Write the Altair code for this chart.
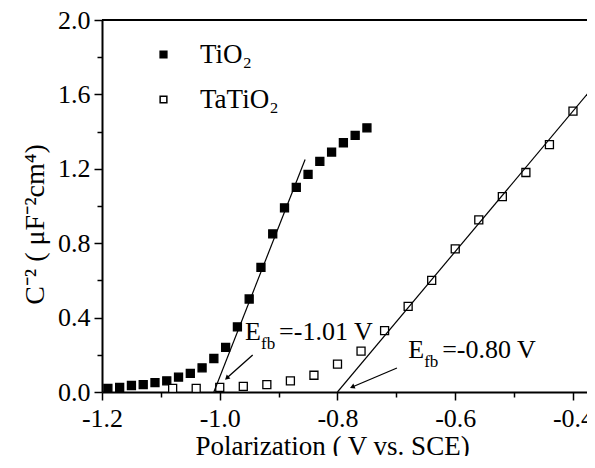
import altair as alt
import pandas as pd

# ---------------- data ----------------
series_names = ["TiO\u2082", "TaTiO\u2082"]

tio2_x = [-1.19, -1.17, -1.15, -1.13, -1.11, -1.09, -1.07, -1.05, -1.03, -1.01, -0.99, -0.97,
          -0.95, -0.93, -0.91, -0.89, -0.87, -0.85, -0.83, -0.81, -0.79, -0.77, -0.75]
tio2_y = [0.02, 0.025, 0.035, 0.04, 0.05, 0.06, 0.08, 0.10, 0.13, 0.18, 0.24, 0.35,
          0.50, 0.67, 0.85, 0.99, 1.10, 1.17, 1.24, 1.29, 1.34, 1.38, 1.42]

tatio2_x = [-1.08, -1.04, -1.00, -0.96, -0.92, -0.88, -0.84, -0.80, -0.76, -0.72, -0.68,
            -0.64, -0.60, -0.56, -0.52, -0.48, -0.44, -0.40, -0.36]
tatio2_y = [0.02, 0.02, 0.025, 0.03, 0.04, 0.06, 0.09, 0.15, 0.22, 0.33, 0.46,
            0.60, 0.77, 0.925, 1.05, 1.18, 1.33, 1.51, 1.69]

# linear fits (Mott-Schottky extrapolation)
fit_x1 = [-1.01, -0.80]
fit_y1 = [0.0, 0.0]
fit_x2 = [-0.855, -0.363]
fit_y2 = [1.25, 1.65]

# annotations
ann_x = [-0.957, -0.680]
ann_y = [0.28, 0.183]
ann_rest = ["=-1.01 V", "=-0.80 V"]
arrow_from_x = [-0.944, -0.699]
arrow_from_y = [0.199, 0.129]
arrow_to_x = [-0.988, -0.775]
arrow_to_y = [0.075, 0.027]
arrow_angle = [228, 247]

x_tick_values = [-1.2, -1.1, -1.0, -0.9, -0.8, -0.7, -0.6, -0.5, -0.4]
y_tick_values = [0.0, 0.2, 0.4, 0.6, 0.8, 1.0, 1.2, 1.4, 1.6, 1.8, 2.0]

x_title = "Polarization ( V vs. SCE)"
y_title = "C\u207b\u00b2 ( \u03bcF\u207b\u00b2cm\u2074)"

W, H = 485, 372

# ---------------- frames ----------------
pts = pd.DataFrame({
    "x": tio2_x + tatio2_x,
    "y": tio2_y + tatio2_y,
    "series": [series_names[0]] * len(tio2_x) + [series_names[1]] * len(tatio2_x),
})
fits = pd.DataFrame({"x1": fit_x1, "y1": fit_y1, "x2": fit_x2, "y2": fit_y2})
anns = pd.DataFrame({"x": ann_x, "y": ann_y, "rest": ann_rest})
arrows = pd.DataFrame({"fx": arrow_from_x, "fy": arrow_from_y,
                       "tx": arrow_to_x, "ty": arrow_to_y, "a": arrow_angle})

FONT = "Liberation Serif"
xscale = alt.Scale(domain=[-1.2, -0.3762], nice=False, zero=False)
yscale = alt.Scale(domain=[0, 2.0], nice=False, zero=False)

x_major = "abs(round(datum.value*10)) % 2 == 0"
y_major = "round(datum.value*10) % 4 == 0"

x_axis = alt.Axis(
    orient="bottom",
    values=x_tick_values,
    labelExpr=f"{x_major} ? replace(format(datum.value, '.1f'), '\u2212', '-') : ''",
    tickSize={"condition": {"test": x_major, "value": 8}, "value": 5},
    tickWidth=1.5, tickColor="black",
    domainColor="black", domainWidth=2,
    labelFont=FONT, labelFontSize=26, labelColor="black", labelPadding=5,
    labelFlush=False, labelOverlap=False, labelBound=False,
    grid=False,
    title=x_title, titleFont=FONT, titleFontSize=27, titleFontWeight="normal",
    titleColor="black", titleX=230, titleY=62, titleBaseline="alphabetic",
    titleAlign="center",
)
y_axis = alt.Axis(
    orient="left",
    values=y_tick_values,
    labelExpr=f"{y_major} ? format(datum.value, '.1f') : ''",
    tickSize={"condition": {"test": y_major, "value": 8}, "value": 5},
    tickWidth=1.5, tickColor="black",
    domainColor="black", domainWidth=2,
    labelFont=FONT, labelFontSize=26, labelColor="black", labelPadding=4,
    labelFlush=False, labelOverlap=False, labelBound=False,
    grid=False,
    title=y_title, titleFont=FONT, titleFontSize=28, titleFontWeight="normal",
    titleColor="black", titleX=-59, titleY=204, titleAngle=270,
    titleBaseline="alphabetic", titleAlign="center",
)

points = alt.Chart(pts).mark_square(size=64, stroke="black", strokeWidth=1.3, opacity=1).encode(
    x=alt.X("x:Q", scale=xscale, axis=x_axis),
    y=alt.Y("y:Q", scale=yscale, axis=y_axis),
    fill=alt.Fill(
        "series:N",
        scale=alt.Scale(domain=series_names, range=["black", "white"]),
        sort=series_names,
        legend=alt.Legend(
            orient="none", legendX=48, legendY=21, title=None, padding=0,
            labelFont=FONT, labelFontSize=27, labelColor="black",
            symbolType="square", symbolSize=45, symbolStrokeColor="black",
            symbolStrokeWidth=1.5, symbolOpacity=1, labelOffset=23, rowPadding=17,
        ),
    ),
)

fit_layer = alt.Chart(fits).mark_rule(color="black", strokeWidth=1.2, clip=True).encode(
    x=alt.X("x1:Q", axis=None), x2="x2:Q",
    y=alt.Y("y1:Q", axis=None), y2="y2:Q",
)

# top frame line of the plot box
top_frame = alt.Chart(fits).mark_rule(color="black", strokeWidth=2).encode(
    x=alt.value(0), x2=alt.value(W), y=alt.value(0)
)

arrow_lines = alt.Chart(arrows).mark_rule(color="black", strokeWidth=1.3).encode(
    x=alt.X("fx:Q", axis=None), x2="tx:Q",
    y=alt.Y("fy:Q", axis=None), y2="ty:Q",
)
arrow_heads = alt.Chart(arrows).mark_point(
    shape="triangle-up", filled=True, size=30, color="black", opacity=1
).encode(
    x=alt.X("tx:Q", axis=None),
    y=alt.Y("ty:Q", axis=None),
    angle=alt.Angle("a:Q", scale=None),
)

base_txt = alt.Chart(anns)
txt_E = base_txt.mark_text(align="left", baseline="alphabetic", font=FONT, fontSize=26,
                           color="black").encode(
    x=alt.X("x:Q", axis=None), y=alt.Y("y:Q", axis=None), text=alt.value("E"))
txt_fb = base_txt.mark_text(align="left", baseline="alphabetic", font=FONT, fontSize=17,
                            color="black", dx=16, dy=9).encode(
    x=alt.X("x:Q", axis=None), y=alt.Y("y:Q", axis=None), text=alt.value("fb"))
txt_rest = base_txt.mark_text(align="left", baseline="alphabetic", font=FONT, fontSize=26,
                              color="black", dx=34).encode(
    x=alt.X("x:Q", axis=None), y=alt.Y("y:Q", axis=None), text="rest:N")

chart = alt.layer(
    points, fit_layer, top_frame, arrow_lines, arrow_heads, txt_E, txt_fb, txt_rest
).resolve_axis(x="independent", y="independent").properties(
    width=W, height=H,
    autosize=alt.AutoSizeParams(type="none"),
    padding={"left": 94, "top": 12, "right": 0, "bottom": 64},
).configure_view(stroke=None).configure(background="white")

chart.save("out.html", embed_options={"renderer": "svg", "actions": False})
